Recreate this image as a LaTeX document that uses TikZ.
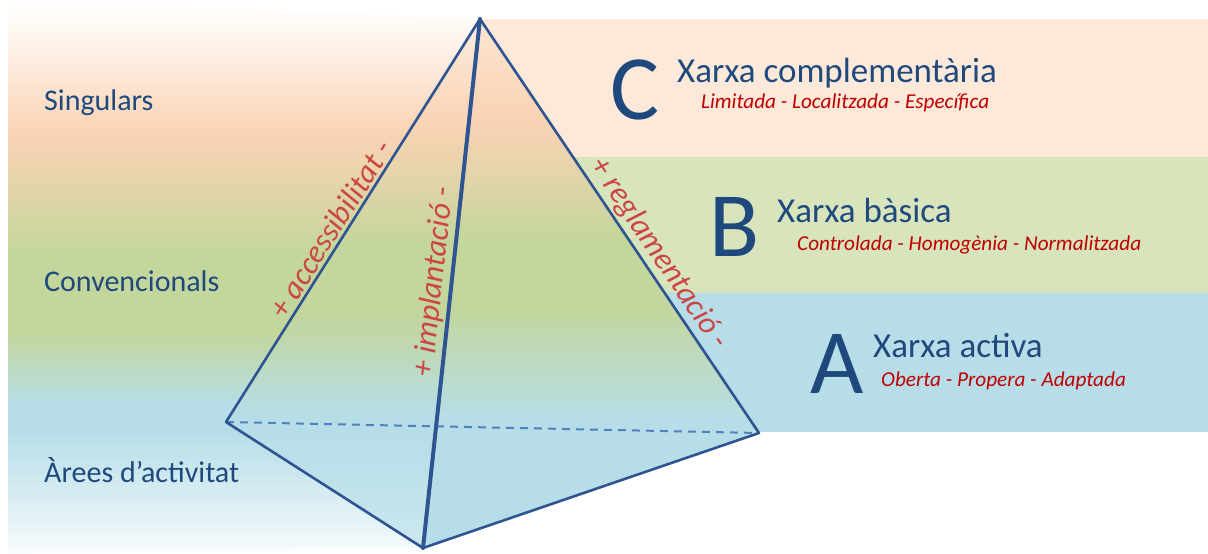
\documentclass[tikz,border=0pt]{standalone}
\usepackage{fontspec}
\setmainfont{Carlito}
\newlength{\du}
\setlength{\du}{1pt}
\definecolor{edgecolor}{rgb}{0.184314, 0.329412, 0.572549}
\definecolor{dashcolor}{rgb}{0.309804, 0.505882, 0.741176}
\definecolor{textcolor}{rgb}{0.121569, 0.286275, 0.490196}
\definecolor{redtextcolor}{rgb}{0.752941, 0.000000, 0.000000}
\definecolor{edgetextcolor}{rgb}{0.800000, 0.274510, 0.274510}
\definecolor{bandCcolor}{rgb}{0.992157, 0.913725, 0.850980}
\definecolor{bandBcolor}{rgb}{0.847059, 0.894118, 0.737255}
\definecolor{bandAcolor}{rgb}{0.717647, 0.870588, 0.909804}
\definecolor{peachcolor}{rgb}{0.980392, 0.827451, 0.705882}
\definecolor{greencolor}{rgb}{0.764706, 0.839216, 0.607843}
\definecolor{tancolor}{rgb}{0.886275, 0.831373, 0.666667}
\pgfdeclareverticalshading{leftshade}{100bp}{color(0bp)=(white); color(25bp)=(bandAcolor!8);
  color(29bp)=(bandAcolor!45); color(36bp)=(bandAcolor); color(38.5bp)=(bandAcolor);
  color(45bp)=(greencolor); color(52bp)=(greencolor); color(58bp)=(tancolor);
  color(63bp)=(peachcolor); color(68bp)=(peachcolor!55); color(73bp)=(peachcolor!12);
  color(75bp)=(white); color(100bp)=(white)}
\pgfdeclareverticalshading{pyramidshade}{100bp}{color(0bp)=(bandAcolor); color(25bp)=(bandAcolor);
  color(37bp)=(bandAcolor); color(48bp)=(greencolor); color(54bp)=(greencolor);
  color(60bp)=(tancolor); color(65.5bp)=(peachcolor); color(75bp)=(peachcolor!60);
  color(100bp)=(peachcolor!60)}
\tikzset{
  edge/.style={draw=edgecolor, line width=2.6\du, line join=round},
  mainedge/.style={draw=edgecolor, line width=4\du, line cap=round},
  hiddenedge/.style={draw=dashcolor, line width=2\du, dash pattern=on 8\du off 6\du},
  edgelabel/.style={sloped, above, inner sep=3.5\du, text=edgetextcolor,
    font=\fontsize{31.5}{36}\selectfont\itshape},
  levellabel/.style={anchor=base west, inner sep=0pt, text=textcolor,
    font=\fontsize{30}{36}\selectfont},
  bigletter/.style={anchor=base west, inner sep=0pt, text=textcolor,
    font=\fontsize{92}{100}\selectfont},
  nettitle/.style={anchor=base west, inner sep=0pt, text=textcolor,
    font=\fontsize{35}{40}\selectfont},
  netsub/.style={anchor=base west, inner sep=0pt, text=redtextcolor,
    font=\fontsize{21.2}{25}\selectfont\itshape}
}
\begin{document}
\begin{tikzpicture}[x=\du,y=-\du]
\useasboundingbox (0,0) rectangle (1208,554);
% bands
\fill[bandCcolor] (480,19) rectangle (1208,157);
\fill[bandBcolor] (480,157) rectangle (1208,293);
\fill[bandAcolor] (480,293) rectangle (1208,432);
\shade[shading=leftshade] (8,0) -- (480,19) -- (423,548) -- (8,554) -- cycle;
% pyramid
\coordinate (apex) at (480,19);
\coordinate (leftv) at (226,422);
\coordinate (rightv) at (759,433);
\coordinate (bottomv) at (423,548);
\shade[shading=pyramidshade] (apex) -- (rightv) -- (bottomv) -- cycle;
\shade[shading=pyramidshade, opacity=0.65] (apex) -- (leftv) -- (bottomv) -- cycle;
\draw[hiddenedge] (leftv) -- (rightv);
\draw[edge] (apex) -- (leftv) -- (bottomv) -- (rightv) -- cycle;
\draw[mainedge] (apex) -- (bottomv);
% was here: edge labels
\path (leftv) -- (apex) node[edgelabel, pos=0.46] (acclabel) {+ accessibilitat -};
\path (bottomv) -- (apex) node[edgelabel, pos=0.50] (implabel) {+ implantació -};
\path (apex) -- (rightv) node[edgelabel, pos=0.59] (reglabel) {+ reglamentació -};
% levels
\node[levellabel] (singulars) at (44,110) {Singulars};
\node[levellabel] (convencionals) at (44,291) {Convencionals};
\node[levellabel] (arees) at (44,482) {Àrees d’activitat};
% networks
\node[bigletter] (letterC) at (610,119) {C};
\node[nettitle] (titleC) at (677,82) {Xarxa complementària};
\node[netsub] (subC) at (701,108) {Limitada - Localitzada - Específica};
\node[bigletter] (letterB) at (709,256) {B};
\node[nettitle] (titleB) at (777,222) {Xarxa bàsica};
\node[netsub] (subB) at (797,250) {Controlada - Homogènia - Normalitzada};
\node[bigletter] (letterA) at (810,393) {A};
\node[nettitle] (titleA) at (873,357) {Xarxa activa};
\node[netsub] (subA) at (881,386) {Oberta - Propera - Adaptada};
\end{tikzpicture}
\end{document}
